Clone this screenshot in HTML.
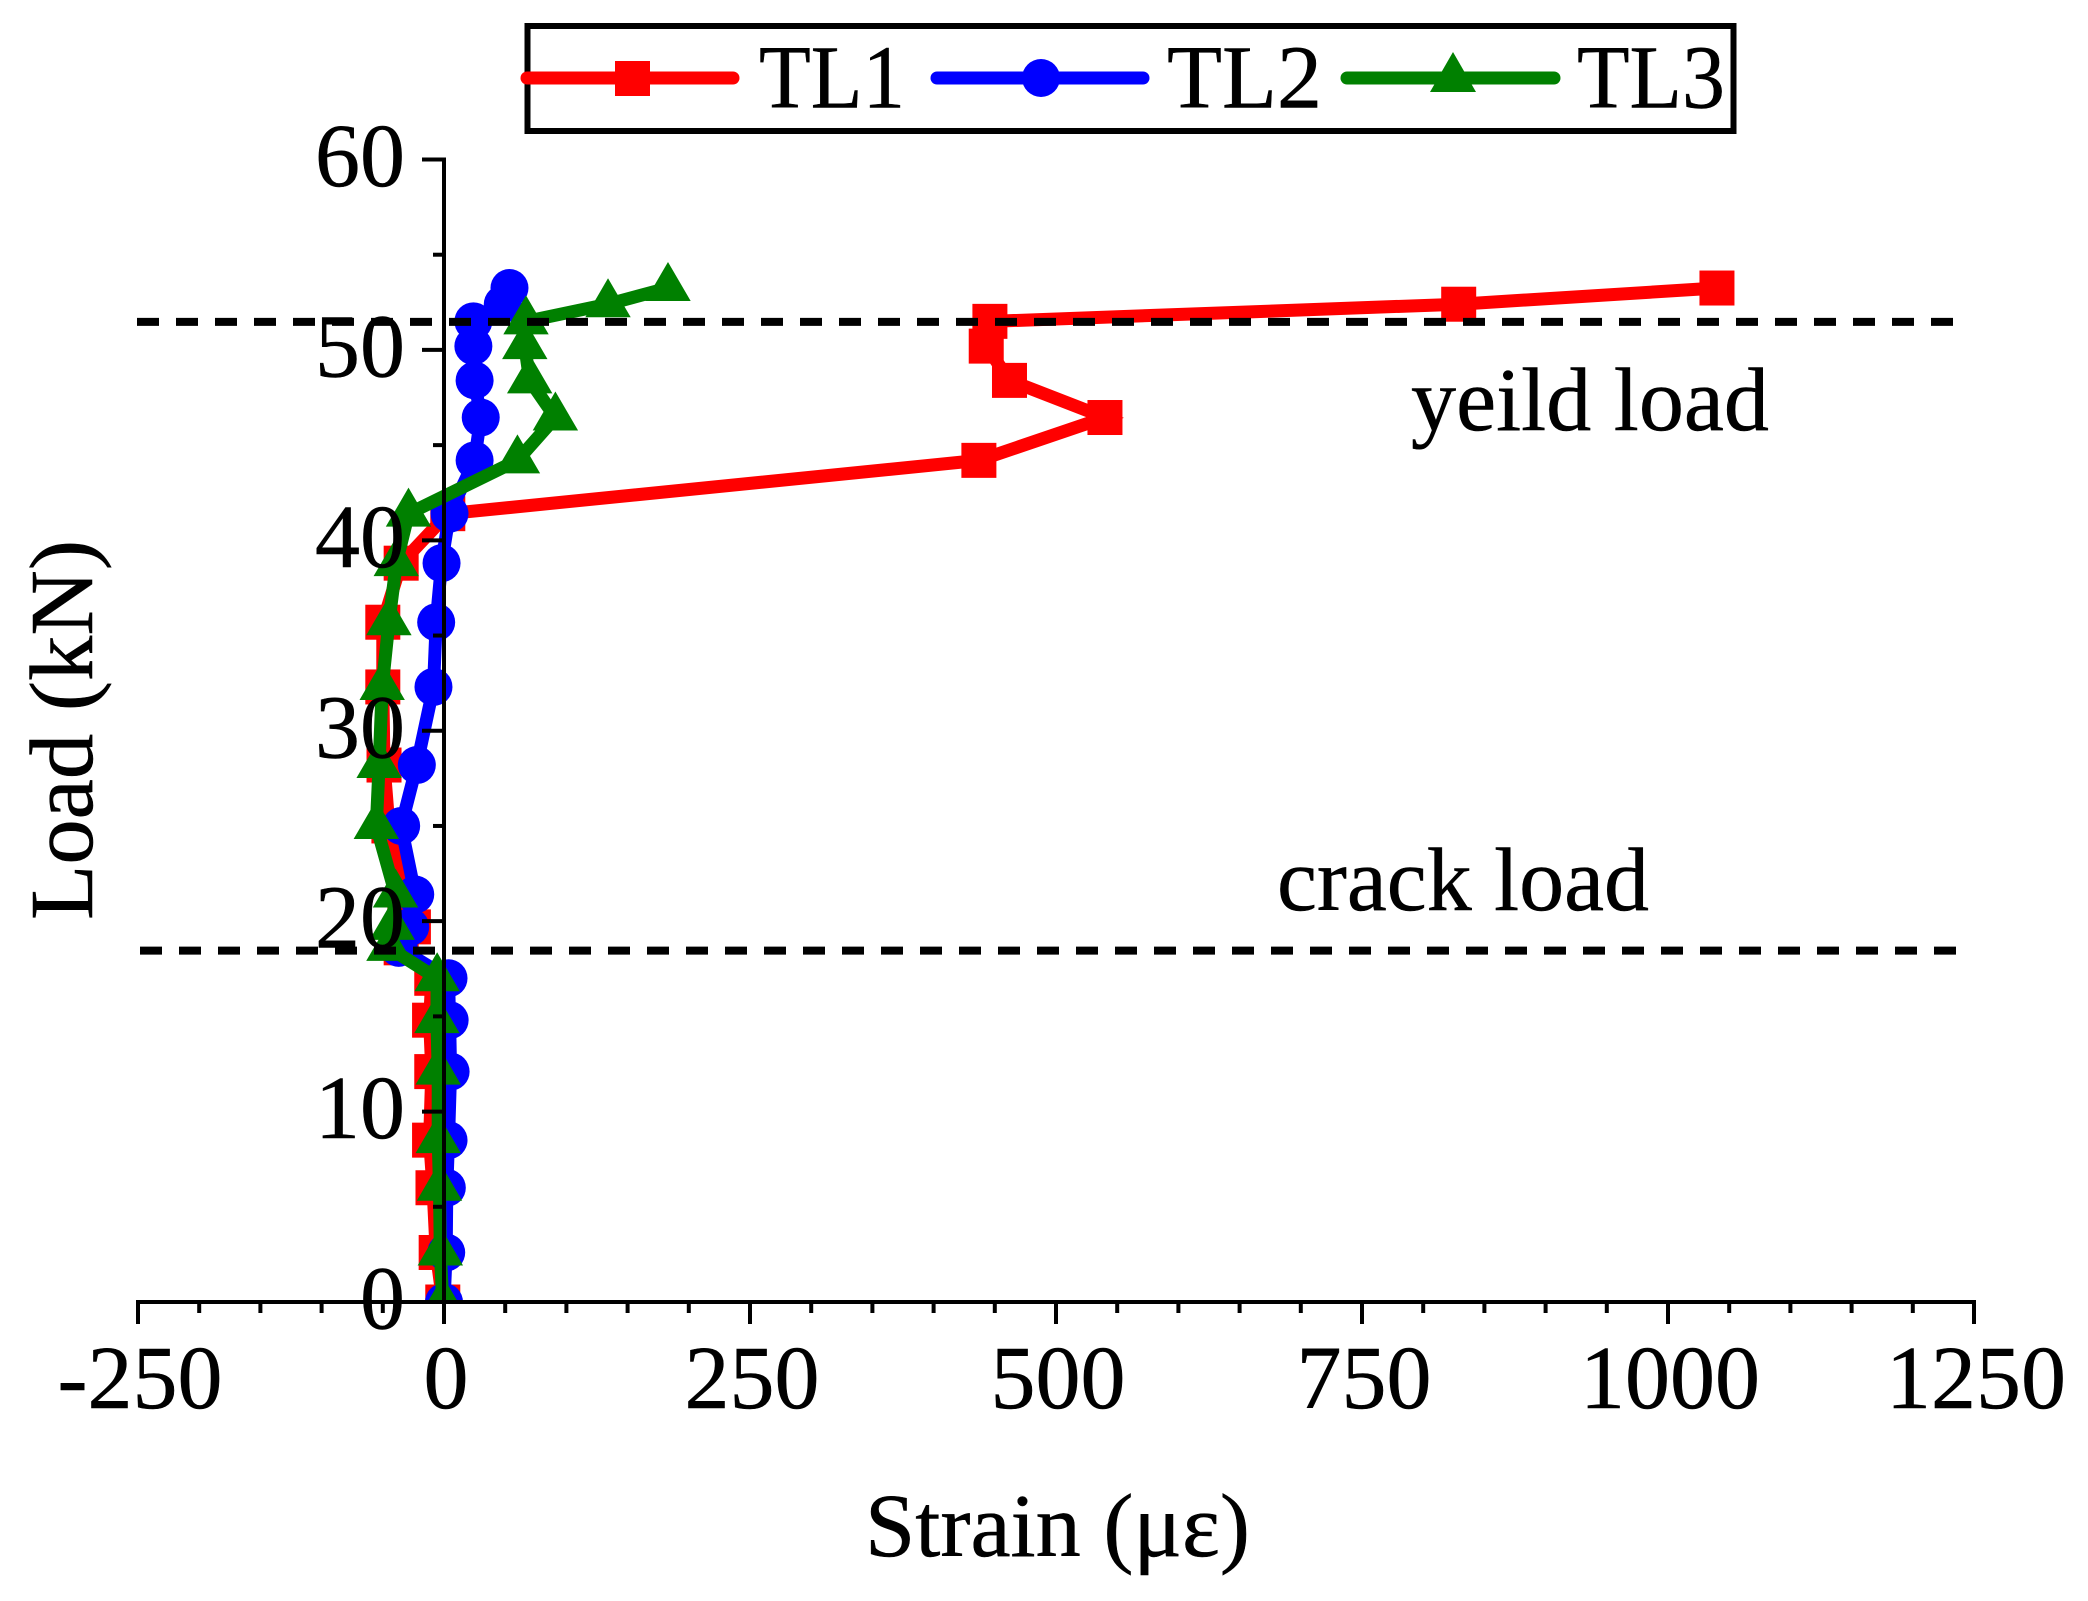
<!DOCTYPE html>
<html lang="en">
<head>
<meta charset="utf-8">
<title>Load vs Strain</title>
<style>
html,body{margin:0;padding:0;background:#fff;}
svg{display:block;}
text{font-family:"Liberation Serif","DejaVu Serif",serif;fill:#000;stroke:#000;stroke-width:0.5px;}
</style>
</head>
<body>
<svg id="chart" xmlns="http://www.w3.org/2000/svg" width="2088" height="1601" viewBox="0 0 2088 1601">
  <defs>
    <clipPath id="plot-clip"><rect x="0" y="0" width="2088" height="1302"/></clipPath>
  </defs>
  <rect x="0" y="0" width="2088" height="1601" fill="#fff"/>
  <g id="series-layer" clip-path="url(#plot-clip)"></g>
  <g id="reference-layer"></g>
  <g id="axis-layer"></g>

  <text x="865" y="1556" font-size="90" textLength="385" lengthAdjust="spacingAndGlyphs">Strain (με)</text>
  <text transform="translate(92,920) rotate(-90)" x="0" y="0" font-size="90" textLength="380" lengthAdjust="spacingAndGlyphs">Load (kN)</text>
  <text x="1411" y="430" font-size="90" textLength="358" lengthAdjust="spacingAndGlyphs">yeild load</text>
  <text x="1277" y="910" font-size="90" textLength="372" lengthAdjust="spacingAndGlyphs">crack load</text>

  <g>
    <rect x="527.5" y="26" width="1206" height="105" fill="#fff" stroke="#000" stroke-width="6"/>
    <g>
      <line x1="527" y1="78" x2="733" y2="78" stroke="#ff0000" stroke-width="13" stroke-linecap="round"/>
      <rect x="615" y="61" width="35" height="35" fill="#ff0000"/>
      <text x="759" y="107.5" font-size="90" textLength="146" lengthAdjust="spacingAndGlyphs">TL1</text>
    </g>
    <g>
      <line x1="937" y1="78" x2="1143" y2="78" stroke="#0000ff" stroke-width="13" stroke-linecap="round"/>
      <circle cx="1041" cy="78" r="19" fill="#0000ff"/>
      <text x="1167" y="107.5" font-size="90" textLength="155" lengthAdjust="spacingAndGlyphs">TL2</text>
    </g>
    <g>
      <line x1="1347" y1="78" x2="1554" y2="78" stroke="#008000" stroke-width="13" stroke-linecap="round"/>
      <polygon points="1453,52 1476,92 1430,92" fill="#008000"/>
      <text x="1577" y="107.5" font-size="90" textLength="148" lengthAdjust="spacingAndGlyphs">TL3</text>
    </g>
  </g>
</svg>
<script>
const loads = [0, 2.6, 6, 8.5, 12.1, 14.8, 17, 18.6, 19.7, 21.4, 25, 28.2, 32.3, 35.7, 38.8, 41.4, 44.2, 46.45, 48.4, 50.2, 51.5, 52.4, 53.25];
const strainTL1 = [-1, -6.4, -9, -11.8, -10, -11.8, -10, -35, -25, -32, -45, -49, -50, -50, -35, 3.1, 437, 540, 462, 443, 446, 829, 1040];
const strainTL2 = [0, 1.8, 2.3, 3.7, 5.4, 4.6, 3.7, -37, -27.6, -23.5, -35, -22.2, -8.6, -6.4, -2, 4.5, 25, 30, 25, 24, 24, 48, 53.5];
const strainTL3 = [-1, -3, -3.7, -4.7, -4.7, -5.8, -5.6, -45, -42.3, -39.6, -55.3, -53, -50.5, -45, -39, -29, 60, 91, 70, 66, 67, 134, 183];
const xTickLabels = [-250, 0, 250, 500, 750, 1000, 1250];
const yTickLabels = [0, 10, 20, 30, 40, 50, 60];
const xMinorStep = 50;
const yMinorStep = 5;
const yieldLoad = 51.47;
const crackLoad = 18.45;

const NS = 'http://www.w3.org/2000/svg';
const plotLeft = 138, plotRight = 1974, plotBottom = 1302, plotTop = 159.5;
const xMin = -250, xMax = 1250, yMin = 0, yMax = 60;
function xScale(v) { return plotLeft + (v - xMin) * (plotRight - plotLeft) / (xMax - xMin); }
function yScale(v) { return plotBottom - (v - yMin) * (plotBottom - plotTop) / (yMax - yMin); }
function make(tag, attrs, parent) {
  const el = document.createElementNS(NS, tag);
  for (const k in attrs) el.setAttribute(k, attrs[k]);
  parent.appendChild(el);
  return el;
}

const seriesLayer = document.getElementById('series-layer');
const referenceLayer = document.getElementById('reference-layer');
const axisLayer = document.getElementById('axis-layer');

function drawSeries(name, values, color, shape) {
  const g = make('g', {}, seriesLayer);
  
  
  const pts = values.map((v, i) => xScale(v).toFixed(1) + ',' + yScale(loads[i]).toFixed(1)).join(' ');
  const line = make('polyline', { points: pts, fill: 'none', stroke: color, 'stroke-width': 13, 'stroke-linejoin': 'miter' }, g);
  
  
  values.forEach((v, i) => {
    const cx = xScale(v), cy = yScale(loads[i]);
    let m;
    if (shape === 'square') {
      m = make('rect', { x: cx - 17.5, y: cy - 17.5, width: 35, height: 35, fill: color }, g);
    } else if (shape === 'circle') {
      m = make('circle', { cx: cx, cy: cy, r: 19, fill: color }, g);
    } else {
      m = make('polygon', { points: cx + ',' + (cy - 26) + ' ' + (cx + 22.7) + ',' + (cy + 13) + ' ' + (cx - 22.7) + ',' + (cy + 13), fill: color }, g);
    }
    
    
  });
}
drawSeries('tl1', strainTL1, '#ff0000', 'square');
drawSeries('tl2', strainTL2, '#0000ff', 'circle');
drawSeries('tl3', strainTL3, '#008000', 'triangle');

function drawReference(name, load, startX) {
  const l = make('line', { x1: startX, x2: 1962, y1: yScale(load), y2: yScale(load), stroke: '#000', 'stroke-width': 8, 'stroke-dasharray': '22 17' }, referenceLayer);
  
  
}
drawReference('yield-load-line', yieldLoad, 137);
drawReference('crack-load-line', crackLoad, 140);

const xAxisLine = make('line', { x1: plotLeft - 2, x2: plotRight + 2, y1: plotBottom, y2: plotBottom, stroke: '#000', 'stroke-width': 4 }, axisLayer);


const yAxisLine = make('line', { x1: xScale(0), x2: xScale(0), y1: plotTop - 2, y2: plotBottom + 2, stroke: '#000', 'stroke-width': 4 }, axisLayer);



for (let v = xMin; v <= xMax; v += xMinorStep) {
  const major = xTickLabels.indexOf(v) >= 0;
  const t = make('line', { x1: xScale(v), x2: xScale(v), y1: plotBottom, y2: plotBottom + (major ? 22 : 11), stroke: '#000', 'stroke-width': 4 }, axisLayer);
  
  
}
for (let v = yMin; v <= yMax; v += yMinorStep) {
  const major = yTickLabels.indexOf(v) >= 0;
  const t = make('line', { x1: xScale(0) - (major ? 22 : 11), x2: xScale(0), y1: yScale(v), y2: yScale(v), stroke: '#000', 'stroke-width': 4 }, axisLayer);
  
  
}
xTickLabels.forEach(v => {
  const t = make('text', { x: xScale(v) + 2, y: 1408, 'font-size': 90, 'text-anchor': 'middle' }, axisLayer);
  t.textContent = String(v);
  
  
});
yTickLabels.forEach(v => {
  const t = make('text', { x: 405, y: yScale(v) + 26.5, 'font-size': 90, 'text-anchor': 'end' }, axisLayer);
  t.textContent = String(v);
  
  
});
</script>
</body>
</html>
